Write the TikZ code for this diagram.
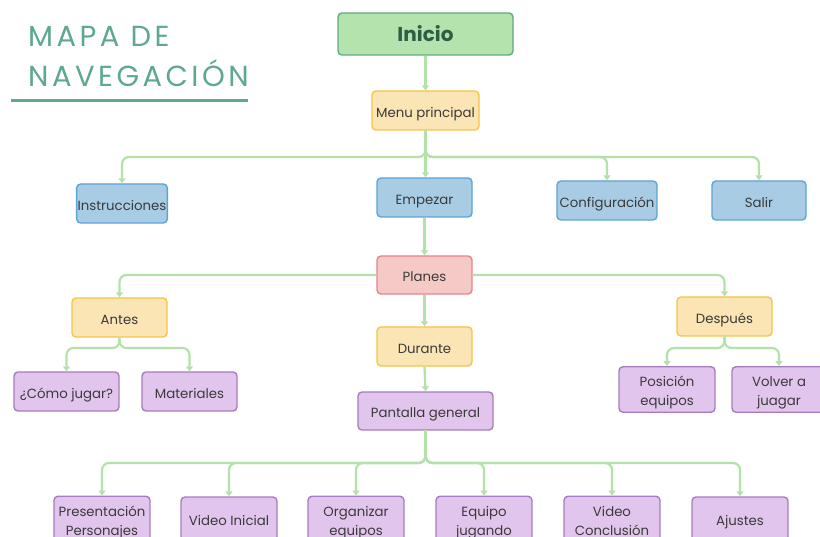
\documentclass[tikz,border=0pt]{standalone}
\usepackage{fontspec}
\setmainfont{Poppins}
\newfontfamily\titlefont[LetterSpace=12]{Poppins}
\usetikzlibrary{arrows.meta}
\definecolor{lineg}{HTML}{B3E2A8}
\definecolor{bfill}{HTML}{A8CCE4}\definecolor{bdraw}{HTML}{5BA4D6}
\definecolor{yfill}{HTML}{FBE5B5}\definecolor{ydraw}{HTML}{F6C545}
\definecolor{rfill}{HTML}{F5C9C5}\definecolor{rdraw}{HTML}{E6838A}
\definecolor{pfill}{HTML}{E2C5EC}\definecolor{pdraw}{HTML}{A67CC0}
\definecolor{gfill}{HTML}{B5E3AE}\definecolor{gdraw}{HTML}{5FAA7F}
\definecolor{gtext}{HTML}{2D5E44}
\definecolor{teal}{HTML}{5DA88F}
\definecolor{txt}{HTML}{3A3A3A}
\newcommand\bxl[1]{\raisebox{0pt}[\dimexpr\height+5.5pt\relax][\depth]{\begin{tabular}{@{}c@{}}#1\end{tabular}}}
\tikzset{
  box/.style={rectangle,rounded corners=4pt,line width=1.4pt,
    text=txt,font=\fontsize{13.3}{19}\selectfont,inner sep=1pt,minimum height=39pt},
  bluebox/.style={box,fill=bfill,draw=bdraw},
  yelbox/.style={box,fill=yfill,draw=ydraw},
  redbox/.style={box,fill=rfill,draw=rdraw},
  purbox/.style={box,fill=pfill,draw=pdraw},
  conn/.style={draw=lineg,line width=2.2pt,rounded corners=7pt,
    -{Triangle[length=5pt,width=7pt]}},
}
\begin{document}
\begin{tikzpicture}[x=1pt,y=-1pt]
\useasboundingbox (0,0) rectangle (820,537);
\clip (0,0) rectangle (820,537);
% title
\node[anchor=west,text=teal,font=\titlefont\fontsize{29}{30}\selectfont,inner sep=0] (t1) at (28,36) {MAPA DE};
\node[anchor=west,text=teal,font=\titlefont\fontsize{29}{30}\selectfont,inner sep=0] (t2) at (28,73) {NAVEGACIÓN};
\draw[teal,line width=3pt] (11,101) -- (248,101);
% nodes
\node[box,fill=gfill,draw=gdraw,text=gtext,minimum width=175pt,minimum height=42pt,font=\fontsize{20}{24}\selectfont\bfseries] (inicio) at (425.5,34) {Inicio};
\node[yelbox,minimum width=107pt] (menu) at (425.5,110.5) {\bxl{Menu principal}};
\node[bluebox,minimum width=90pt] (instr) at (122,203.5) {\bxl{Instrucciones}};
\node[bluebox,minimum width=95pt] (empezar) at (424.5,197.5) {\bxl{Empezar}};
\node[bluebox,minimum width=100pt] (config) at (607,200.5) {\bxl{Configuración}};
\node[bluebox,minimum width=94pt] (salir) at (759,200.5) {\bxl{Salir}};
\node[redbox,minimum width=95pt,minimum height=38pt] (planes) at (424.5,275) {\bxl{Planes}};
\node[yelbox,minimum width=95pt] (antes) at (119.5,317.5) {\bxl{Antes}};
\node[yelbox,minimum width=95pt] (durante) at (424.5,346.5) {\bxl{Durante}};
\node[yelbox,minimum width=95pt] (despues) at (724.5,316.5) {\bxl{Después}};
\node[purbox,minimum width=105pt] (como) at (66.5,391.5) {\bxl{¿Cómo jugar?}};
\node[purbox,minimum width=95pt] (mat) at (189.5,391.5) {\bxl{Materiales}};
\node[purbox,minimum width=96pt,minimum height=45pt] (pos) at (667,389.5) {\bxl{Posición\\equipos}};
\node[purbox,minimum width=94pt,minimum height=45pt] (volver) at (779,389.5) {\bxl{Volver a\\juagar}};
\node[purbox,minimum width=135pt,minimum height=38pt] (pant) at (425.5,411) {\bxl{Pantalla general}};
\node[purbox,minimum width=96pt,minimum height=44pt] (b1) at (102,519) {\bxl{Presentación\\Personajes}};
\node[purbox,minimum width=96pt,minimum height=44pt] (b2) at (229,519) {\bxl{Video Inicial}};
\node[purbox,minimum width=96pt,minimum height=44pt] (b3) at (356,519) {\bxl{Organizar\\equipos}};
\node[purbox,minimum width=96pt,minimum height=44pt] (b4) at (484,519) {\bxl{Equipo\\jugando}};
\node[purbox,minimum width=96pt,minimum height=44pt] (b5) at (612,519) {\bxl{Video\\Conclusión}};
\node[purbox,minimum width=96pt,minimum height=44pt] (b6) at (740,519) {\bxl{Ajustes}};
% connectors
\draw[conn] (inicio) -- (menu);
\draw[conn] (menu.south) -- (425.5,157) -| (instr.north);
\draw[conn] (menu.south) -- (425.5,157) -| (config.north);
\draw[conn] (menu.south) -- (425.5,157) -| (salir.north);
\draw[conn] (menu.south) -- (menu.south |- empezar.north);
\draw[conn] (empezar) -- (planes);
\draw[conn] (planes.west) -| (antes.north);
\draw[conn] (planes.east) -| (despues.north);
\draw[conn] (planes) -- (durante);
\draw[conn] (antes.south) -- (119.5,348) -| (como.north);
\draw[conn] (antes.south) -- (119.5,348) -| (mat.north);
\draw[conn] (despues.south) -- (724.5,348) -| (pos.north);
\draw[conn] (despues.south) -- (724.5,348) -| (volver.north);
\draw[conn] (durante.south) -- (pant.north);
\foreach \b in {b1,b2,b3,b4,b5,b6}
  \draw[conn] (pant.south) -- (425.5,463) -| (\b.north);
\end{tikzpicture}
\end{document}
